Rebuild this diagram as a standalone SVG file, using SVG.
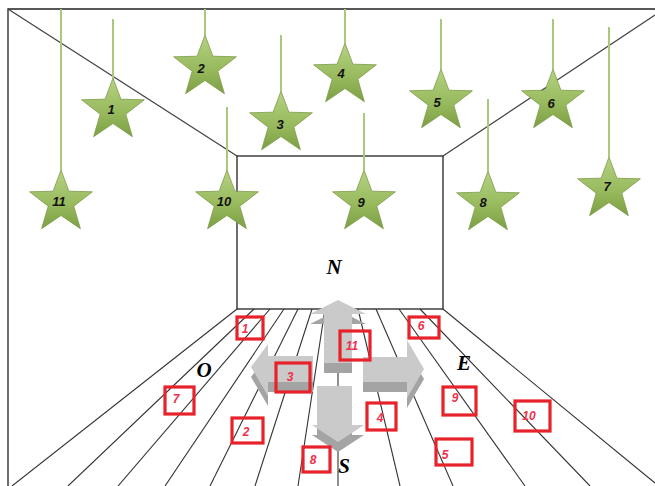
<svg xmlns="http://www.w3.org/2000/svg" width="655" height="486" viewBox="0 0 655 486">
<style>
.frame{stroke:#222;stroke-width:1.3;fill:none}
.diag{stroke:#444;stroke-width:1.3;fill:none}
.floor line{stroke:#333;stroke-width:1.1}
.hang{stroke:#a9c97c;stroke-width:2}
.star{fill:url(#sg);stroke:#7c9a48;stroke-width:0.8}
.sl{font-family:"Liberation Sans",Arial,sans-serif;font-size:13px;font-weight:bold;font-style:italic;fill:#111;text-anchor:middle}
.box{fill:none;stroke:#e8222a;stroke-width:3.2}
.bl{font-family:"Liberation Sans",Arial,sans-serif;font-size:12px;font-weight:bold;font-style:italic;fill:#f0304a;text-anchor:middle}
.dir{font-family:"Liberation Serif","Times New Roman",serif;font-size:21px;font-weight:bold;font-style:italic;fill:#000;text-anchor:middle}
.al{fill:#cacaca}
.ad{fill:#a4a4a4}
</style>
<defs>
<linearGradient id="sg" x1="0" y1="0" x2="0" y2="1">
<stop offset="0" stop-color="#b5d283"/>
<stop offset="0.6" stop-color="#97b95c"/>
<stop offset="1" stop-color="#7d9f45"/>
</linearGradient>
<path id="star" d="M0,-32 L7.9,-10.8 L31.4,-10.2 L12.8,4.2 L19.4,26.7 L0,13.5 L-19.4,26.7 L-12.8,4.2 L-31.4,-10.2 L-7.9,-10.8 Z"/>
</defs>
<rect width="655" height="486" fill="#fff"/>
<g id="room">
<polyline class="frame" points="8,486 8,9 655,9"/>
<line class="diag" x1="8" y1="9" x2="237" y2="156"/>
<line class="diag" x1="443" y1="156" x2="655" y2="15"/>
<rect class="frame" x="237" y="156" width="206" height="153"/>
</g>
<g id="floor" class="floor">
<line x1="237" y1="309" x2="12" y2="486"/>
<line x1="254" y1="309" x2="68" y2="486"/>
<line x1="270" y1="309" x2="118" y2="486"/>
<line x1="284" y1="309" x2="165" y2="486"/>
<line x1="298" y1="309" x2="210" y2="486"/>
<line x1="312" y1="309" x2="255" y2="486"/>
<line x1="325" y1="309" x2="298" y2="486"/>
<line x1="338" y1="309" x2="338" y2="486"/>
<line x1="358" y1="309" x2="400" y2="486"/>
<line x1="376" y1="309" x2="453" y2="486"/>
<line x1="399" y1="309" x2="525" y2="486"/>
<line x1="420" y1="309" x2="590" y2="486"/>
<line x1="443" y1="309" x2="655" y2="483"/>
</g>
<g id="stars">
<g id="star1"><line class="hang" x1="113" y1="19" x2="113" y2="78"/><use href="#star" class="star" x="113" y="110"/><text class="sl" x="111" y="114">1</text></g>
<g id="star2"><line class="hang" x1="205" y1="9" x2="205" y2="35"/><use href="#star" class="star" x="205" y="67"/><text class="sl" x="201" y="73">2</text></g>
<g id="star3"><line class="hang" x1="281" y1="35" x2="281" y2="91"/><use href="#star" class="star" x="281" y="123"/><text class="sl" x="280" y="129">3</text></g>
<g id="star4"><line class="hang" x1="345" y1="9" x2="345" y2="43"/><use href="#star" class="star" x="345" y="75"/><text class="sl" x="341" y="78">4</text></g>
<g id="star5"><line class="hang" x1="441" y1="19" x2="441" y2="69"/><use href="#star" class="star" x="441" y="101"/><text class="sl" x="437" y="107">5</text></g>
<g id="star6"><line class="hang" x1="553" y1="19" x2="553" y2="69"/><use href="#star" class="star" x="553" y="101"/><text class="sl" x="551" y="108">6</text></g>
<g id="star7"><line class="hang" x1="609" y1="27" x2="609" y2="157"/><use href="#star" class="star" x="609" y="189"/><text class="sl" x="607" y="191">7</text></g>
<g id="star8"><line class="hang" x1="488" y1="99" x2="488" y2="171"/><use href="#star" class="star" x="488" y="203"/><text class="sl" x="483" y="207">8</text></g>
<g id="star9"><line class="hang" x1="364" y1="113" x2="364" y2="170"/><use href="#star" class="star" x="364" y="202"/><text class="sl" x="361" y="207">9</text></g>
<g id="star10"><line class="hang" x1="227" y1="107" x2="227" y2="170"/><use href="#star" class="star" x="227" y="202"/><text class="sl" x="224" y="206">10</text></g>
<g id="star11"><line class="hang" x1="61" y1="9" x2="61" y2="170"/><use href="#star" class="star" x="61" y="202"/><text class="sl" x="59" y="206">11</text></g>
</g>
<g id="arrows">
<g id="arrow-up"><polygon class="ad" points="338,310 366,324 352,324 352,373 324,373 324,324 310,324"/><polygon class="al" points="338,300 366,314 352,314 352,363 324,363 324,314 310,314"/></g>
<g id="arrow-left"><polygon class="ad" points="251,377 268,354 268,366 313,366 313,392 268,392 268,406"/><polygon class="al" points="251,367 268,344 268,356 313,356 313,382 268,382 268,396"/></g>
<g id="arrow-right"><polygon class="ad" points="363,367 407,367 407,350 424,379 407,408 407,392 363,392"/><polygon class="al" points="363,357 407,357 407,340 424,369 407,398 407,382 363,382"/></g>
<g id="arrow-down"><polygon class="ad" points="317,396 352,396 352,435 364,435 338,452 312,435 317,435"/><polygon class="al" points="317,386 352,386 352,425 364,425 338,442 312,425 317,425"/></g>
</g>
<g id="labels">
<text class="dir" x="334" y="274">N</text>
<text class="dir" x="204" y="377">O</text>
<text class="dir" x="464" y="370">E</text>
<text class="dir" x="344" y="473">S</text>
</g>
<g id="boxes">
<g id="box1"><rect class="box" x="237" y="317" width="26" height="22"/><text class="bl" x="245" y="333">1</text></g>
<g id="box2"><rect class="box" x="232" y="418" width="31" height="25"/><text class="bl" x="246" y="436">2</text></g>
<g id="box3"><rect class="box" x="276" y="363" width="34" height="29"/><text class="bl" x="290" y="381">3</text></g>
<g id="box4"><rect class="box" x="367" y="403" width="29" height="27"/><text class="bl" x="380" y="422">4</text></g>
<g id="box5"><rect class="box" x="436" y="439" width="36" height="26"/><text class="bl" x="445" y="459">5</text></g>
<g id="box6"><rect class="box" x="409" y="317" width="30" height="21"/><text class="bl" x="421" y="330">6</text></g>
<g id="box7"><rect class="box" x="165" y="387" width="29" height="27"/><text class="bl" x="176" y="403">7</text></g>
<g id="box8"><rect class="box" x="303" y="447" width="27" height="25"/><text class="bl" x="313" y="464">8</text></g>
<g id="box9"><rect class="box" x="443" y="387" width="33" height="28"/><text class="bl" x="455" y="402">9</text></g>
<g id="box10"><rect class="box" x="515" y="401" width="35" height="30"/><text class="bl" x="529" y="420">10</text></g>
<g id="box11"><rect class="box" x="340" y="331" width="30" height="29"/><text class="bl" x="352" y="350">11</text></g>
</g>
</svg>
